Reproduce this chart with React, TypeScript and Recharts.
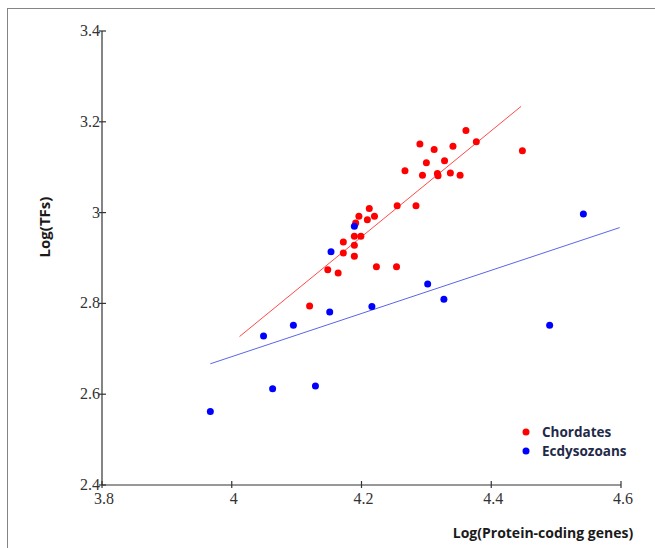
import React from "react";
import { ScatterChart, Scatter, XAxis, YAxis, ReferenceLine } from "recharts";

// Log(protein-coding genes) vs Log(TFs)
const chordateX = [
    4.361, 4.377, 4.29, 4.312, 4.341, 4.448, 4.3, 4.328, 4.267, 4.294, 4.317, 4.318, 4.337, 4.352, 4.255, 4.284,
    4.212, 4.196, 4.22, 4.209, 4.191, 4.189, 4.199, 4.172, 4.189, 4.172, 4.189, 4.148, 4.164, 4.223, 4.254, 4.12,
];
const chordateY = [
    3.181, 3.156, 3.151, 3.139, 3.146, 3.136, 3.11, 3.114, 3.092, 3.082, 3.086, 3.081, 3.087, 3.082, 3.015, 3.015,
    3.009, 2.992, 2.992, 2.984, 2.977, 2.948, 2.948, 2.935, 2.928, 2.911, 2.904, 2.874, 2.867, 2.881, 2.881, 2.794,
];
const ecdyX = [4.189, 4.153, 4.049, 4.095, 4.151, 4.216, 4.302, 4.327, 4.063, 4.129, 3.967, 4.542, 4.49];
const ecdyY = [2.97, 2.914, 2.728, 2.752, 2.781, 2.793, 2.843, 2.809, 2.612, 2.618, 2.562, 2.997, 2.752];

// fitted lines, [start, end]
const chordateFitX = [4.012, 4.446];
const chordateFitY = [2.727, 3.234];
const ecdyFitX = [3.967, 4.598];
const ecdyFitY = [2.667, 2.967];

const xTicks = [3.8, 4, 4.2, 4.4, 4.6];
const yTicks = [2.4, 2.6, 2.8, 3, 3.2, 3.4];

const seriesNames = ["Chordates", "Ecdysozoans"];
const RED = "#ff0000";
const BLUE = "#0000ff";

const chordates = chordateX.map((x, i) => ({ x, y: chordateY[i] }));
const ecdysozoans = ecdyX.map((x, i) => ({ x, y: ecdyY[i] }));

const tickFont = { fontFamily: "'Liberation Serif', serif", fontSize: 16, fill: "#333" };
const titleFont = { fontFamily: "'Open Sans', sans-serif", fontWeight: 700, fill: "#1a1a1a" };

const XTick = (props: any) => {
    const { x, y, payload } = props;
    return (
        <g>
            <line x1={x} x2={x} y1={y - 4} y2={y + 3} stroke="#333" strokeWidth={1.2} />
            <text x={x + 2} y={y + 19} textAnchor="middle" {...tickFont}>
                {payload.value}
            </text>
        </g>
    );
};

const YTick = (props: any) => {
    const { x, y, payload } = props;
    return (
        <g>
            <line x1={x - 3} x2={x + 4} y1={y} y2={y} stroke="#333" strokeWidth={1.2} />
            <text x={x - 2} y={y + 5} textAnchor="end" {...tickFont}>
                {payload.value}
            </text>
        </g>
    );
};

const Dot = (color: string) => (props: any) => <circle cx={props.cx} cy={props.cy} r={3.5} fill={color} />;

export default function App() {
    return (
        <div style={{ position: "absolute", left: 0, top: 0, width: 655, height: 548, background: "#fff" }}>
            <div
                style={{
                    position: "absolute",
                    left: 7,
                    top: 8,
                    width: 660,
                    height: 560,
                    borderLeft: "1.5px solid #858585",
                    borderTop: "1.5px solid #858585",
                }}
            />
            <ScatterChart width={655} height={548} margin={{ top: 31, right: 34, bottom: 23, left: 42 }}>
                <XAxis
                    type="number"
                    dataKey="x"
                    domain={[3.8, 4.6]}
                    ticks={xTicks}
                    allowDataOverflow
                    tickSize={0}
                    tickMargin={0}
                    tickLine={false}
                    tick={<XTick />}
                    height={40}
                    axisLine={{ stroke: "#333", strokeWidth: 1.2 }}
                />
                <YAxis
                    type="number"
                    dataKey="y"
                    domain={[2.4, 3.4]}
                    ticks={yTicks}
                    allowDataOverflow
                    tickSize={0}
                    tickMargin={0}
                    tickLine={false}
                    tick={<YTick />}
                    width={60}
                    axisLine={{ stroke: "#333", strokeWidth: 1.2 }}
                />
                <ReferenceLine
                    segment={[
                        { x: chordateFitX[0], y: chordateFitY[0] },
                        { x: chordateFitX[1], y: chordateFitY[1] },
                    ]}
                    stroke="#ff4a4a"
                    strokeWidth={1}
                    ifOverflow="visible"
                />
                <ReferenceLine
                    segment={[
                        { x: ecdyFitX[0], y: ecdyFitY[0] },
                        { x: ecdyFitX[1], y: ecdyFitY[1] },
                    ]}
                    stroke="#5a66e6"
                    strokeWidth={1}
                    ifOverflow="visible"
                />
                <Scatter name={seriesNames[0]} data={chordates} shape={Dot(RED)} isAnimationActive={false} />
                <Scatter name={seriesNames[1]} data={ecdysozoans} shape={Dot(BLUE)} isAnimationActive={false} />
                {/* legend */}
                {seriesNames.map((n, i) => (
                    <g key={n}>
                        <circle cx={526} cy={432 + i * 19} r={3.5} fill={i === 0 ? RED : BLUE} />
                        <text
                            x={542}
                            y={437 + i * 19}
                            fontFamily="'Open Sans', sans-serif"
                            fontSize={13.5}
                            fontWeight={700}
                            fill="#1f2a48"
                        >
                            {n}
                        </text>
                    </g>
                ))}
                <text
                    x={44}
                    y={227}
                    transform="rotate(-90 44 227)"
                    textAnchor="middle"
                    dominantBaseline="central"
                    fontSize={15}
                    {...titleFont}
                >
                    Log(TFs)
                </text>
                <text x={543} y={538} textAnchor="middle" fontSize={14} {...titleFont}>
                    Log(Protein-coding genes)
                </text>
            </ScatterChart>
        </div>
    );
}
